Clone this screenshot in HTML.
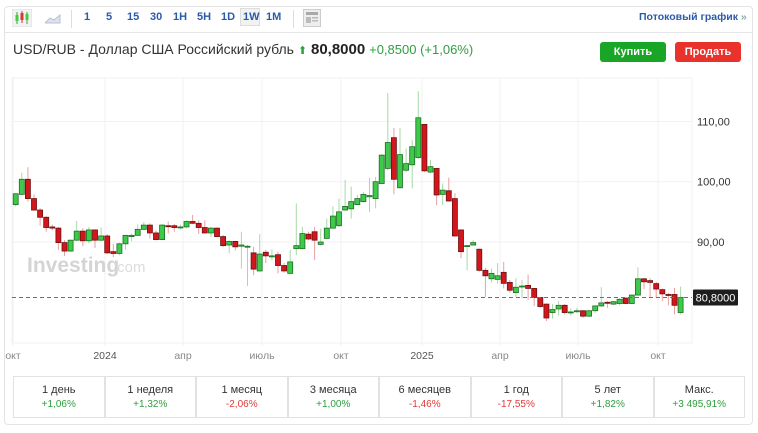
<!DOCTYPE html>
<html><head><meta charset="utf-8">
<style>
body{margin:0;background:#fff;font-family:"Liberation Sans","DejaVu Sans",sans-serif;}
#root{position:relative;width:758px;height:433px;overflow:hidden;background:#fff;}
.card{position:absolute;left:4px;top:6px;width:749px;height:419px;border:1px solid #e4e4e4;border-radius:4px;box-sizing:border-box;}
.tb{position:absolute;top:11px;font-size:11px;font-weight:bold;color:#2a5ba8;}
.btn{position:absolute;top:42px;height:20px;width:66px;border-radius:3px;color:#fff;font-size:11px;font-weight:bold;text-align:center;line-height:20px;}
.cell{position:absolute;top:376px;height:42px;width:91.5px;box-sizing:border-box;border:1px solid #e2e2e2;text-align:center;}
.cell .l{font-size:11px;color:#333;margin-top:7px;}
.cell .p{font-size:10px;margin-top:3px;}
.g{color:#2e9e3e}.r{color:#e03a3a}
</style></head><body>
<div id="root">
<div class="card"></div>
<div style="position:absolute;left:5px;top:32px;width:747px;height:1px;background:#e6e6e6"></div>
<svg style="position:absolute;left:12px;top:9px" width="20" height="18">
<rect x="0" y="0" width="20" height="18" fill="#f2f2f2" stroke="#ddd"/>
<line x1="5" y1="3" x2="5" y2="15" stroke="#3a3"/><rect x="3.5" y="6" width="3" height="6" fill="#4c4"/>
<line x1="10" y1="2" x2="10" y2="14" stroke="#c33"/><rect x="8.5" y="4" width="3" height="7" fill="#d33"/>
<line x1="15" y1="3" x2="15" y2="15" stroke="#3a3"/><rect x="13.5" y="5" width="3" height="6" fill="#4c4"/></svg>
<svg style="position:absolute;left:45px;top:12px" width="16" height="12"><path d="M0 11 L5 6 L9 8 L15 3 L15 11Z" fill="#dde3ee" stroke="#b8c2d4"/></svg>
<div style="position:absolute;left:71px;top:10px;width:1px;height:18px;background:#ddd"></div>
<div class="tb" style="left:84px">1</div>
<div class="tb" style="left:106px">5</div>
<div class="tb" style="left:127px">15</div>
<div class="tb" style="left:150px">30</div>
<div class="tb" style="left:173px">1H</div>
<div class="tb" style="left:197px">5H</div>
<div class="tb" style="left:221px">1D</div>
<div style="position:absolute;left:240px;top:8px;width:20px;height:18px;background:#f2f2f2;border:1px solid #ddd;box-sizing:border-box"></div>
<div class="tb" style="left:243px">1W</div>
<div class="tb" style="left:266px">1M</div>
<div style="position:absolute;left:293px;top:10px;width:1px;height:18px;background:#ddd"></div>
<svg style="position:absolute;left:303px;top:9px" width="18" height="18"><rect x="0.5" y="0.5" width="17" height="17" fill="#eee" stroke="#ccc"/><rect x="3" y="3" width="12" height="3" fill="#aaa"/><rect x="3" y="8" width="5" height="6" fill="#bbb"/><rect x="9" y="8" width="6" height="1.5" fill="#bbb"/><rect x="9" y="11" width="6" height="1.5" fill="#bbb"/></svg>
<div class="tb" style="left:639px;font-size:10.5px">Потоковый график <span style="color:#8aa">»</span></div>

<div style="position:absolute;left:13px;top:41px;font-size:14px;color:#333;white-space:nowrap">USD/RUB - Доллар США Российский рубль <span style="color:#2e9e3e;font-size:11px">&#x2B06;</span> <b style="font-size:15px;color:#222">80,8000</b> <span style="color:#2e9e3e;font-size:13px">+0,8500 (+1,06%)</span></div>
<div class="btn" style="left:600px;background:#19a526">Купить</div>
<div class="btn" style="left:675px;background:#e8322b">Продать</div>

<svg id="chart" style="position:absolute;left:0;top:0" width="758" height="370"></svg>

<div class="cell" style="left:13px"><div class="l">1 день</div><div class="p g">+1,06%</div></div>
<div class="cell" style="left:104.5px"><div class="l">1 неделя</div><div class="p g">+1,32%</div></div>
<div class="cell" style="left:196px"><div class="l">1 месяц</div><div class="p r">-2,06%</div></div>
<div class="cell" style="left:287.5px"><div class="l">3 месяца</div><div class="p g">+1,00%</div></div>
<div class="cell" style="left:379px"><div class="l">6 месяцев</div><div class="p r">-1,46%</div></div>
<div class="cell" style="left:470.5px"><div class="l">1 год</div><div class="p r">-17,55%</div></div>
<div class="cell" style="left:562px"><div class="l">5 лет</div><div class="p g">+1,82%</div></div>
<div class="cell" style="left:653.5px"><div class="l">Макс.</div><div class="p g">+3 495,91%</div></div>
</div>
<script>
const opens=[96.2,97.9,100.4,97.2,95.3,94.1,92.5,92.3,89.9,88.5,90.3,91.8,90.2,92.0,90.3,91.0,88.4,88.1,89.7,90.9,91.1,92.1,92.8,91.5,90.4,92.7,92.7,92.4,92.5,93.4,93.1,92.4,91.5,92.3,90.9,89.5,90.1,89.3,89.2,88.2,85.2,88.3,87.6,87.9,86.1,84.8,88.9,88.9,91.3,91.7,89.6,90.6,92.3,92.7,95.3,95.5,96.2,96.7,97.5,97.2,99.7,102.2,107.3,99.0,101.9,102.8,104.0,109.5,101.6,102.2,97.9,98.5,97.2,92.0,89.3,89.5,88.8,85.3,83.9,83.8,84.97,83.3,81.6,82.6,82.8,82.3,80.8,79.7,78.3,78.9,79.5,78.3,78.5,78.6,77.7,78.6,79.4,80.0,79.7,79.8,80.7,79.8,81.2,83.9,83.6,83.1,82.1,81.3,81.3,78.3];
const closes=[98.0,100.4,97.2,95.3,94.1,92.4,92.3,89.9,88.5,90.3,91.8,90.2,92.0,90.3,91.0,88.2,88.1,89.7,91.1,91.1,92.1,92.8,91.5,90.4,92.8,92.6,92.4,92.5,93.4,93.1,92.4,91.5,92.3,90.9,89.4,90.1,89.2,89.5,89.3,85.5,88.0,87.7,87.7,86.1,85.2,86.7,89.4,91.4,90.5,90.3,90.0,92.3,94.3,95.0,95.9,96.7,97.2,97.9,97.7,100.0,104.4,106.5,100.4,104.5,103.0,105.8,110.6,101.8,102.5,97.8,98.6,96.8,91.0,88.4,89.4,89.9,85.3,84.4,84.8,84.4,83.14,82.0,82.5,82.7,82.3,80.8,79.3,77.4,78.8,79.5,78.3,78.4,78.6,77.7,78.6,79.4,79.9,79.9,80.1,80.5,79.8,81.2,83.9,83.4,83.3,82.2,81.4,81.2,79.5,80.8];
const highs=[98.1,101.5,102.4,97.9,95.6,94.3,92.9,92.5,90.3,90.4,93.5,92.3,92.5,92.1,92.4,91.3,89.7,89.9,91.2,91.4,92.9,93.3,93.1,91.9,93.0,93.4,93.0,92.9,93.6,94.5,93.6,93.6,92.5,92.4,91.2,90.3,90.2,91.7,89.5,89.2,91.3,88.7,88.8,88.4,86.5,88.7,96.4,92.5,91.7,92.5,92.2,93.9,95.9,97.2,100.3,99.2,97.8,98.3,100.6,100.8,104.6,114.7,108.9,108.9,105.5,106.9,115.0,109.6,103.6,102.3,99.7,100.7,98.1,92.1,89.4,90.3,88.9,85.7,85.6,86.5,86.7,83.7,84.0,83.7,84.6,82.3,80.8,79.8,79.7,80.2,79.7,79.0,79.1,78.7,78.7,79.5,82.5,80.2,80.2,80.7,80.8,81.3,85.8,84.0,84.0,83.4,82.3,81.6,82.4,82.6];
const lows=[95.9,97.8,96.7,95.2,92.7,91.7,91.9,88.7,87.7,88.4,90.2,89.3,89.8,89.0,90.1,88.0,87.5,87.8,88.7,90.1,91.1,92.0,90.6,90.3,90.3,91.4,91.7,92.1,92.3,93.0,91.3,91.4,90.8,90.8,89.2,88.1,88.6,85.6,82.7,84.5,85.1,86.5,87.0,84.8,84.9,84.7,87.8,88.8,90.3,87.0,89.4,90.5,92.2,92.5,95.2,93.9,96.1,96.5,95.0,95.6,99.6,101.9,97.9,98.9,101.6,98.9,103.8,101.6,101.4,96.1,96.1,96.7,90.9,87.3,85.3,89.4,85.1,80.9,83.3,83.1,82.3,81.6,80.9,80.7,80.4,79.4,79.1,76.9,77.3,77.8,78.0,77.8,78.2,77.4,77.6,78.2,79.2,79.1,79.5,79.5,79.7,79.7,81.1,82.2,80.8,80.7,80.2,79.5,78.0,78.0];
const yTicks=[110,100,90];
const yTickLabels=["110,00","100,00","90,00"];
const xTickIdx=[0,13,26,39,52,65,78,91,104];
const xTickLabels=["окт","2024","апр","июль","окт","2025","апр","июль","окт"];
const lastPrice=80.8;
const lastLabel="80,8000";

const NS="http://www.w3.org/2000/svg";
const svg=document.getElementById('chart');
const L=12,R=692,T=78,B=343;
const yS=v=>181.7-(v-100)*6.03;
const xS=i=>15.7+i*6.1;
const xTickX=[13,105,183,262,341,422,500,578,658];
function mk(t,a,p){const e=document.createElementNS(NS,t);for(const k in a)e.setAttribute(k,a[k]);(p||svg).appendChild(e);return e;}
const fr=mk('rect',{x:L,y:T,width:R-L,height:B-T,fill:'none',stroke:'#f0f0f0'});


yTicks.forEach((v,k)=>{
 const g=mk('line',{x1:L,x2:R,y1:yS(v),y2:yS(v),stroke:'#f1f1f1'});
 
 
 const t=mk('text',{x:697,y:yS(v)+4,'font-size':11,fill:'#333'});
 t.textContent=yTickLabels[k];
 
 
});
xTickIdx.forEach((ix,k)=>{
 const x=xTickX[k];
 const g=mk('line',{x1:x,x2:x,y1:T,y2:B+3,stroke:'#f2f2f2'});
 
 
 const t=mk('text',{x:x,y:359,'font-size':10.5,fill:k%4==1?'#555':'#888','text-anchor':'middle'});
 t.textContent=xTickLabels[k];
 
 
});
const wm=mk('text',{x:27,y:272,'font-size':21,'font-weight':'bold',fill:'#d4d4d4'});
wm.textContent='Investing';


const wm2=mk('text',{x:113,y:272,'font-size':15,fill:'#dcdcdc'});
wm2.textContent='.com';


for(let i=0;i<opens.length;i++){
 const up=closes[i]>=opens[i];
 const x=xS(i);
 const w=mk('line',{x1:x,x2:x,y1:yS(highs[i]),y2:yS(lows[i]),stroke:up?'#a9d8a6':'#e6a0a0','stroke-width':1});
 
 
 const top=yS(Math.max(opens[i],closes[i])),bot=yS(Math.min(opens[i],closes[i]));
 const r=mk('rect',{x:x-2.5,y:top,width:5,height:Math.max(1,bot-top),fill:up?'#3ec94a':'#d3161c',stroke:up?'#1d6e25':'#6e1010','stroke-width':0.8});
 
 
}
const dl=mk('line',{x1:L,x2:R,y1:yS(lastPrice),y2:yS(lastPrice),stroke:'#c44a4a','stroke-dasharray':'4,3','stroke-width':1});


const pb=mk('rect',{x:693,y:yS(lastPrice)-8,width:45,height:16,fill:'#1e1e1e',rx:1});


const pt=mk('text',{x:715.5,y:yS(lastPrice)+4,'font-size':11,fill:'#fff','text-anchor':'middle'});
pt.textContent=lastLabel;


</script>
</body></html>
